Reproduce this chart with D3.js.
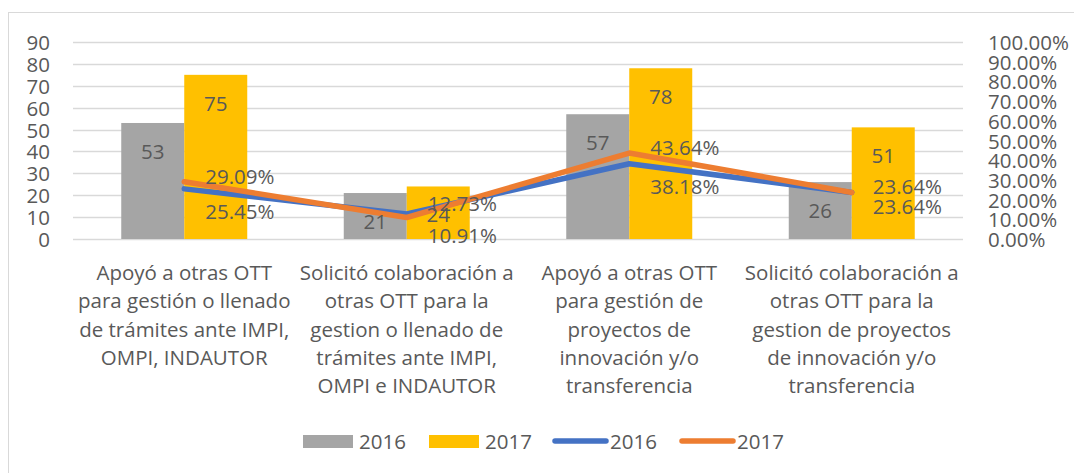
<!DOCTYPE html>
<html><head><meta charset="utf-8">
<script src="https://cdn.jsdelivr.net/npm/d3@7"></script>
<style>
body{margin:0;background:#fff;}
text{font-family:"Open Sans", sans-serif; fill:#595959;}
</style>
</head><body>
<svg id="chart" width="1074" height="473"></svg>
<script>
// ---- data ----
const categories = [
  ["Apoyó a otras OTT", "para gestión o llenado", "de trámites ante IMPI,", "OMPI, INDAUTOR"],
  ["Solicitó colaboración a", "otras OTT para la", "gestion o llenado de", "trámites ante IMPI,", "OMPI e INDAUTOR"],
  ["Apoyó a otras OTT", "para gestión de", "proyectos de", "innovación y/o", "transferencia"],
  ["Solicitó colaboración a", "otras OTT para la", "gestion de proyectos", "de innovación y/o", "transferencia"]
];
const bars2016 = [53, 21, 57, 26];
const bars2017 = [75, 24, 78, 51];
const pct2016 = [0.2545, 0.1273, 0.3818, 0.2364];
const pct2017 = [0.2909, 0.1091, 0.4364, 0.2364];
const leftTicks = [0, 10, 20, 30, 40, 50, 60, 70, 80, 90];
const rightTicks = [0, 0.1, 0.2, 0.3, 0.4, 0.5, 0.6, 0.7, 0.8, 0.9, 1.0];
const seriesNames = ["2016", "2017", "2016", "2017"];

// ---- styles ----
const colGray = "#A5A5A5", colYellow = "#FFC000", colBlue = "#4472C4", colOrange = "#ED7D31";
const FS = 20.5;

const svg = d3.select("#chart");
svg.append("rect").attr("x", 8.5).attr("y", 12.5).attr("width", 1080).attr("height", 480)
  .attr("fill", "none").attr("stroke", "#D9D9D9");

const x = d3.scaleBand().domain(d3.range(categories.length)).range([73, 963]).padding(0);
const xs = d3.scaleBand().domain([0, 1]).range([0, x.bandwidth()]).paddingInner(0).paddingOuter(0.766);
const yL = d3.scaleLinear().domain([0, 90]).range([239, 42]);
const yR = d3.scaleLinear().domain([0, 1]).range([239, 42]);

// gridlines
svg.append("g").selectAll("line").data(leftTicks).join("line")
  .attr("x1", 73).attr("x2", 963)
  .attr("y1", d => Math.round(yL(d)) + 0.5).attr("y2", d => Math.round(yL(d)) + 0.5)
  .attr("stroke", "#D9D9D9").attr("stroke-width", 1.3);

// left axis labels
svg.append("g").selectAll("text").data(leftTicks).join("text")
  .attr("x", 50).attr("y", d => yL(d)).attr("text-anchor", "end")
  .attr("dominant-baseline", "central").style("font-size", FS + "px").text(d => d);

// right axis labels
svg.append("g").selectAll("text").data(rightTicks).join("text")
  .attr("x", 988).attr("y", d => yR(d))
  .attr("dominant-baseline", "central").style("font-size", FS + "px").text(d => d3.format(".2%")(d));

// bars
const barSeries = [{v: bars2016, c: colGray}, {v: bars2017, c: colYellow}];
barSeries.forEach((s, si) => {
  const g = svg.append("g");
  g.selectAll("rect").data(s.v).join("rect")
    .attr("x", (d, i) => x(i) + xs(si)).attr("width", xs.bandwidth())
    .attr("y", d => yL(d)).attr("height", d => yL(0) - yL(d)).attr("fill", s.c);
});

// lines
const line = d3.line().x((d, i) => x(i) + x.bandwidth() / 2).y(d => yR(d));
svg.append("path").datum(pct2016).attr("d", line).attr("fill", "none")
  .attr("stroke", colBlue).attr("stroke-width", 5.5).attr("stroke-linecap", "round").attr("stroke-linejoin", "round");
svg.append("path").datum(pct2017).attr("d", line).attr("fill", "none")
  .attr("stroke", colOrange).attr("stroke-width", 5.5).attr("stroke-linecap", "round").attr("stroke-linejoin", "round");

// bar labels
barSeries.forEach((s, si) => {
  svg.append("g").selectAll("text").data(s.v).join("text")
    .attr("x", (d, i) => x(i) + xs(si) + xs.bandwidth() / 2)
    .attr("y", d => yL(d) + 28).attr("text-anchor", "middle")
    .attr("dominant-baseline", "central").style("font-size", FS + "px").text(d => d);
});

// line labels: higher point label above, lower below
const fmt = d3.format(".2%");
categories.forEach((c, i) => {
  const px = x(i) + x.bandwidth() / 2 + 21;
  const a = pct2016[i], b = pct2017[i];
  let yBlue, yOrange;
  if (b >= a) {
    yOrange = yR(b) - 6;
    yBlue = (a === b) ? yOrange + 20 : yR(a) + 22;
  } else {
    yBlue = yR(a) - 11;
    yOrange = yR(b) + 17;
  }
  svg.append("text").attr("x", px).attr("y", yOrange).attr("dominant-baseline", "central")
    .style("font-size", FS + "px").text(fmt(b));
  svg.append("text").attr("x", px).attr("y", yBlue).attr("dominant-baseline", "central")
    .style("font-size", FS + "px").text(fmt(a));
});

// category labels
categories.forEach((lines, i) => {
  const t = svg.append("text").attr("text-anchor", "middle").style("font-size", FS + "px");
  lines.forEach((ln, j) => {
    t.append("tspan").attr("x", x(i) + x.bandwidth() / 2).attr("y", 272 + j * 28.3)
      .attr("dominant-baseline", "central").text(ln);
  });
});

// legend
const legX = [303, 429, 553, 680];
const legG = svg.append("g");
seriesNames.forEach((n, i) => {
  if (i < 2) {
    legG.append("rect").attr("x", legX[i]).attr("y", 435).attr("width", 50).attr("height", 13)
      .attr("fill", i === 0 ? colGray : colYellow);
    legG.append("text").attr("x", legX[i] + 56).attr("y", 441).attr("dominant-baseline", "central")
      .style("font-size", FS + "px").text(n);
  } else {
    legG.append("line").attr("x1", legX[i] + 2).attr("x2", legX[i] + 53).attr("y1", 441).attr("y2", 441)
      .attr("stroke", i === 2 ? colBlue : colOrange).attr("stroke-width", 5.5).attr("stroke-linecap", "round");
    legG.append("text").attr("x", legX[i] + 57).attr("y", 441).attr("dominant-baseline", "central")
      .style("font-size", FS + "px").text(n);
  }
});
</script>
</body></html>
